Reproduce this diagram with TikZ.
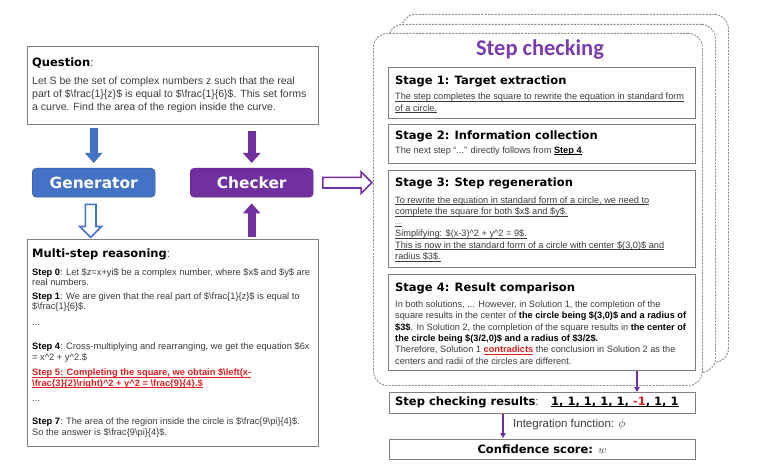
\documentclass[tikz,border=0pt]{standalone}
\usepackage{fontspec}
\setmainfont{Liberation Sans}
\newfontfamily\heavyfont{DejaVu Sans}
\newfontfamily\titlefont{Carlito}
\usetikzlibrary{arrows.meta,shapes.arrows,calc}
\definecolor{gblue}{HTML}{4472C4}
\definecolor{cpurple}{HTML}{7030A0}
\definecolor{tpurple}{HTML}{7B3CB0}
\definecolor{tgray}{HTML}{3C3C3C}
\definecolor{redc}{HTML}{E02020}
\definecolor{framegray}{HTML}{8C8C8C}
\definecolor{boxgray}{HTML}{7F7F7F}
\newcommand\hv[1]{{\heavyfont\bfseries #1}}
\newcommand\bk[1]{\textcolor{black}{\bfseries #1}}
\newsavebox\myulbox
\newcommand\ul[1]{\sbox\myulbox{#1}\rlap{\usebox\myulbox}\rule[-1.5pt]{\wd\myulbox}{0.5pt}}
\begin{document}
\begin{tikzpicture}[x=1pt,y=-1pt,
  box/.style={draw=boxgray, line width=0.9pt, fill=white, inner sep=0, anchor=north west},
  frame/.style={draw=framegray, line width=0.9pt, dash pattern=on 2pt off 1.3pt, rounded corners=14pt, fill=white, inner sep=0, anchor=north west},
  block/.style={rounded corners=4pt, inner sep=0, anchor=north west, minimum width=123pt, minimum height=29pt, text=white, font=\heavyfont\bfseries\fontsize{15.4}{18}\selectfont},
  txt/.style={inner sep=0, anchor=west, align=left, text=tgray},
  head/.style={inner sep=0, anchor=west, text=black, font=\heavyfont\bfseries\fontsize{11.5}{14}\selectfont},
  stxt/.style={txt, font=\fontsize{9.3}{10.6}\selectfont},
  gtxt/.style={txt, font=\fontsize{9.2}{11.4}\selectfont},
  solid arrow/.style={line width=8pt, -{Triangle[width=17pt,length=10pt]}},
  thin arrow/.style={draw=cpurple, line width=1.6pt, -{Triangle[width=5.5pt,length=5pt]}},
  hollow/.style={single arrow, single arrow head extend=5.5pt, single arrow tip angle=90, fill=white, line width=1.6pt, inner sep=4.5pt}
]
\useasboundingbox[fill=white] (0,0) rectangle (777,473);

% ---------- left side ----------
\node[box, minimum width=291pt, minimum height=78pt] (qbox) at (27,46) {};
\node[head] (qhead) at (32,63) {Question\textcolor{tgray}{\normalfont:}};
\node[txt, font=\fontsize{10.5}{12.8}\selectfont] (qtext) at (32,95)
 {Let S be the set of complex numbers z such that the real\\
  part of \$\textbackslash frac\{1\}\{z\}\$ is equal to \$\textbackslash frac\{1\}\{6\}\$. This set forms\\
  a curve. Find the area of the region inside the curve.};

\node[block, fill=gblue, draw=gblue!80!black] (gen) at (32,168) {Generator};
\node[block, fill=cpurple, draw=cpurple!80!black] (chk) at (190,168) {Checker};

\node[box, minimum width=291pt, minimum height=207pt] (ms) at (27,239) {};
\node[head] (mshead) at (32,254) {Multi-step reasoning\textcolor{tgray}{\normalfont:}};
\node[stxt] (s0) at (32,277) {\bk{Step 0}: Let \$z=x+yi\$ be a complex number, where \$x\$ and \$y\$ are\\ real numbers.};
\node[stxt] (s1) at (32,302) {\bk{Step 1}: We are given that the real part of \$\textbackslash frac\{1\}\{z\}\$ is equal to\\ \$\textbackslash frac\{1\}\{6\}\$.};
\node[stxt] (d1) at (32,325) {...};
\node[stxt] (s4) at (32,352.5) {\bk{Step 4}: Cross-multiplying and rearranging, we get the equation \$6x\\ = x\textasciicircum 2 + y\textasciicircum 2.\$};
\node[stxt, text=redc, font=\bfseries\fontsize{9.3}{10.6}\selectfont] (s5) at (32,378.5)
 {\ul{Step 5: Completing the square, we obtain \$\textbackslash left(x-}\\
  \ul{\textbackslash frac\{3\}\{2\}\textbackslash right)\textasciicircum 2 + y\textasciicircum 2 = \textbackslash frac\{9\}\{4\}.\$}};
\node[stxt] (d2) at (32,401) {...};
\node[stxt] (s7) at (32,427.5) {\bk{Step 7}: The area of the region inside the circle is \$\textbackslash frac\{9\textbackslash pi\}\{4\}\$.\\ So the answer is \$\textbackslash frac\{9\textbackslash pi\}\{4\}\$.};

% left arrows
\draw[solid arrow, gblue, shorten <=3pt, shorten >=5pt] (gen.north |- qbox.south) -- (gen.north);
\draw[solid arrow, cpurple, shorten <=6pt, shorten >=5pt] (chk.north |- qbox.south) -- (chk.north);
\draw[solid arrow, cpurple, shorten <=2pt, shorten >=6pt] (chk.south |- ms.north) -- (chk.south);
\node[hollow, draw=gblue, minimum height=33pt, rotate=-90] (garr) at ($(gen.south)!0.5!(gen.south |- ms.north)+(-3,0)$) {};

% ---------- right side ----------
\node[frame, minimum width=327pt, minimum height=348pt] (f3) at (401,14) {};
\node[frame, minimum width=327pt, minimum height=348pt] (f2) at (388,24) {};
\node[frame, minimum width=329pt, minimum height=352pt] (f1) at (373,33) {};
\node[hollow, draw=cpurple, minimum height=49pt] (carr) at ($(chk.east)!0.5!(chk.east -| f1.west)+(1.5,0)$) {};

\node[inner sep=0, text=tpurple, font=\titlefont\bfseries\fontsize{22.5}{26}\selectfont] (title) at (540,50) {Step checking};

\node[box, minimum width=307pt, minimum height=51pt] (st1) at (388,67) {};
\node[head] (h1) at (395,81) {Stage 1: Target extraction};
\node[gtxt] (t1) at (395,103) {\ul{The step completes the square to rewrite the equation in standard form}\\ \ul{of a circle.}};

\node[box, minimum width=307pt, minimum height=39pt] (st2) at (388,124) {};
\node[head] (h2) at (395,136) {Stage 2: Information collection};
\node[gtxt] (t2) at (395,151) {The next step “...” directly follows from \bk{\ul{Step 4}}.};

\node[box, minimum width=307pt, minimum height=97pt] (st3) at (388,170) {};
\node[head] (h3) at (395,183) {Stage 3: Step regeneration};
\node[gtxt] (t3a) at (395,206.5) {\ul{To rewrite the equation in standard form of a circle, we need to}\\ \ul{complete the square for both \$x\$ and \$y\$.}};
\node[gtxt, font=\fontsize{6}{7}\selectfont] (t3d) at (395,225) {\ul{....}};
\node[gtxt] (t3b) at (395,245.5) {\ul{Simplifying: \$(x-3)\textasciicircum 2 + y\textasciicircum 2 = 9\$.}\\ \ul{This is now in the standard form of a circle with center \$(3,0)\$ and}\\ \ul{radius \$3\$.}};

\node[box, minimum width=307pt, minimum height=96pt] (st4) at (388,274) {};
\node[head] (h4) at (395,288) {Stage 4: Result comparison};
\node[gtxt] (t4) at (395,332.5)
 {In both solutions, ... However, in Solution 1, the completion of the\\
  square results in the center of \bk{the circle being \$(3,0)\$ and a radius of}\\
  \bk{\$3\$}. In Solution 2, the completion of the square results in \bk{the center of}\\
  \bk{the circle being \$(3/2,0)\$ and a radius of \$3/2\$.}\\
  Therefore, Solution 1 \textcolor{redc}{\bfseries\ul{contradicts}} the conclusion in Solution 2 as the\\
  centers and radii of the circles are different.};

\node[box, minimum width=306pt, minimum height=21pt] (res) at (389,392) {};
\node[head] (rhead) at (395,402) {Step checking results\textcolor{tgray}{\normalfont:}};
\node[head] (rnum) at (551,402) {\ul{1, 1, 1, 1, 1, \textcolor{redc}{-1}, 1, 1}};

\node[box, minimum width=306pt, minimum height=20pt] (conf) at (389,439) {};
\node[head, anchor=center] (ctext) at (542,449) {Confidence score: \textcolor{tgray}{\normalfont\fontsize{11}{12}\selectfont$w$}};

\node[txt, font=\fontsize{11.5}{13}\selectfont] (intl) at (513,425) {Integration function: $\phi$};

\draw[thin arrow] ($(st4.south west)+(249,0)$) -- ($(res.north west)+(248,0)$);
\draw[thin arrow] ($(res.south west)+(114,0)$) -- ($(conf.north west)+(114,-1)$);
\end{tikzpicture}
\end{document}
